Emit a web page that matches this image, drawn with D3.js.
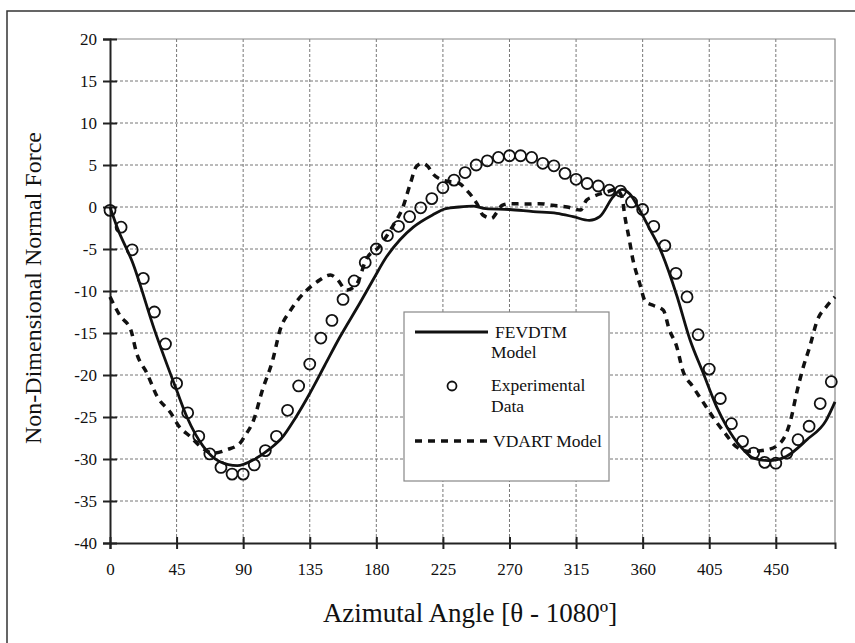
<!DOCTYPE html>
<html>
<head>
<meta charset="utf-8">
<script src="https://cdn.jsdelivr.net/npm/d3@7"></script>
<style>
  body { margin: 0; background: #fff; }
  svg text { font-family: "Liberation Serif", "Times New Roman", serif; fill: #111; }
</style>
</head>
<body>
<svg width="855" height="643"></svg>
<script>
// experimental data (circles)
var expAngle = [0, 7.5, 15, 22.5, 30, 37.5, 45, 52.5, 60, 67.5, 75, 82.5, 90, 97.5, 105, 112.5,
  120, 127.5, 135, 142.5, 150, 157.5, 165, 172.5, 180, 187.5, 195, 202.5, 210, 217.5, 225, 232.5,
  240, 247.5, 255, 262.5, 270, 277.5, 285, 292.5, 300, 307.5, 315, 322.5, 330, 337.5, 345, 352.5,
  360, 367.5, 375, 382.5, 390, 397.5, 405, 412.5, 420, 427.5, 435, 442.5, 450, 457.5, 465, 472.5,
  480, 487.5];
var expValue = [-0.4, -2.4, -5.1, -8.5, -12.5, -16.3, -21.0, -24.5, -27.3, -29.4, -31.0, -31.8, -31.8, -30.7, -29.0, -27.3,
  -24.2, -21.3, -18.7, -15.6, -13.5, -11.0, -8.8, -6.6, -5.0, -3.4, -2.3, -1.15, -0.1, 1.0, 2.3, 3.2,
  4.1, 5.0, 5.5, 5.9, 6.1, 6.1, 5.9, 5.2, 4.9, 4.0, 3.3, 2.8, 2.5, 2.0, 1.9, 0.6,
  -0.3, -2.3, -4.6, -7.9, -10.7, -15.2, -19.3, -22.8, -25.8, -27.9, -29.3, -30.4, -30.5, -29.3, -27.7, -26.1,
  -23.4, -20.8];

// FEVDTM model (solid)
var fevAngle = [0, 5, 15, 30, 45, 52, 63, 74, 86, 97, 108, 117, 125, 135, 145, 155, 169, 178, 187, 196, 205,
  218, 227, 236, 245, 254, 270, 286, 302, 313, 324, 331, 340, 346, 351, 358, 365, 372, 383, 392, 401,
  410, 417, 426, 435, 445, 457, 471, 484, 490];
var fevValue = [0, -2.5, -6.5, -14.6, -21.8, -25, -28.5, -30.3, -30.8, -30.1, -28.8, -27.3, -25.2, -22.2, -18.9, -15.6, -11.4, -8.6, -5.9, -3.9, -2.4,
  -0.95, -0.2, 0, 0.1, -0.2, -0.3, -0.55, -0.75, -1.15, -1.6, -1.15, 1.2, 2.1, 1.6, -0.35, -2.7, -5.1, -10.5, -15.8, -19.8,
  -23.8, -26.2, -28.5, -29.9, -30.2, -29.7, -27.7, -25.4, -23.2];

// VDART model (dashed)
var vdAngle = [0, 7, 14, 18, 25, 32, 41, 47, 54, 61, 70, 79, 88, 91, 97, 103, 110, 115, 122, 133,
  140, 149, 153, 160, 167, 173, 182, 191, 198, 203, 207, 211, 215, 218, 225, 236, 241, 248, 252, 258,
  261, 265, 270, 281, 290, 299, 309, 318, 322, 326, 336, 342, 346, 348, 351, 353, 358, 362, 367, 374,
  378, 383, 387, 394, 403, 409, 416, 423, 432, 444, 453, 460, 464, 468, 473, 478, 484, 490];
var vdValue = [-10.7, -13, -14.6, -17.4, -19.8, -22.6, -24.5, -26.2, -27.3, -28.5, -29.3, -28.9, -28.1, -27.3, -25.4, -21.8, -18.2, -14.6, -12.3, -9.9,
  -8.9, -8.1, -8.5, -9.9, -9.1, -6.3, -4.7, -2.3, 0, 2.8, 4.8, 5.2, 4.8, 4.0, 3.2, 2.8, 2.0, 0.4, -0.95, -1.35,
  -0.75, 0.2, 0.4, 0.35, 0.4, 0.2, 0, -0.35, 0.8, 1.2, 1.8, 2.1, 1.2, -1.15, -3.9, -5.9, -9.1, -11.3, -11.7, -12.3,
  -14.6, -16.6, -19.4, -21.4, -23.8, -25.4, -27, -28.5, -29.1, -28.9, -28.1, -25.4, -22.2, -19.4, -16.6, -13.5, -11.9, -10.7];

var xTicks = [0, 45, 90, 135, 180, 225, 270, 315, 360, 405, 450];
var yTicks = [-40, -35, -30, -25, -20, -15, -10, -5, 0, 5, 10, 15, 20];

var serif = "Liberation Serif, Times New Roman, serif";
var svg = d3.select("svg");

// outer frame
svg.append("rect")
  .attr("x", 7).attr("y", 11)
  .attr("width", 860).attr("height", 650)
  .attr("fill", "none")
  .attr("stroke", "#333")
  .attr("stroke-width", 1.5);

var x = d3.scaleLinear().domain([0, 490]).range([110, 835]);
var y = d3.scaleLinear().domain([-40, 20]).range([543, 39]);

// grid
var grid = svg.append("g").attr("class", "grid");
grid.selectAll("line.v")
  .data(xTicks.slice(1))
  .enter().append("line")
  .attr("x1", function(d) { return x(d); })
  .attr("x2", function(d) { return x(d); })
  .attr("y1", y(20)).attr("y2", y(-40))
  .attr("stroke", "#777").attr("stroke-width", 1)
  .attr("stroke-dasharray", "3,2");
grid.selectAll("line.h")
  .data(yTicks.slice(1, -1))
  .enter().append("line")
  .attr("x1", x(0)).attr("x2", x(490))
  .attr("y1", function(d) { return y(d); })
  .attr("y2", function(d) { return y(d); })
  .attr("stroke", "#777").attr("stroke-width", 1)
  .attr("stroke-dasharray", "3,2");

// plot border top/right
svg.append("path")
  .attr("d", "M" + x(0) + "," + y(20) + "H" + x(490) + "V" + y(-40))
  .attr("fill", "none").attr("stroke", "#888").attr("stroke-width", 1.2);

// axes
var fmt = function(d) { return String(d); };   // plain hyphen minus like the original

var xAxis = svg.append("g")
  .attr("transform", "translate(0," + y(-40) + ")")
  .call(d3.axisBottom(x).tickValues(xTicks).tickFormat(fmt).tickSize(6).tickPadding(14));
xAxis.attr("font-family", serif).attr("font-size", 17);
xAxis.select(".domain").attr("stroke", "#222").attr("stroke-width", 2);
xAxis.selectAll(".tick line").attr("y1", -6).attr("stroke", "#222").attr("stroke-width", 2);
xAxis.selectAll("text").attr("fill", "#111");

var yAxis = svg.append("g")
  .attr("transform", "translate(" + x(0) + ",0)")
  .call(d3.axisLeft(y).tickValues(yTicks).tickFormat(fmt).tickSize(7).tickPadding(6));
yAxis.attr("font-family", serif).attr("font-size", 17);
yAxis.select(".domain").attr("stroke", "#222").attr("stroke-width", 2);
yAxis.selectAll(".tick line").attr("x1", 7).attr("x2", -7).attr("stroke", "#222").attr("stroke-width", 2);
yAxis.selectAll("text").attr("fill", "#111");

// series
var fevData = fevAngle.map(function(a, i) { return [a, fevValue[i]]; });
var vdData = vdAngle.map(function(a, i) { return [a, vdValue[i]]; });
var expData = expAngle.map(function(a, i) { return [a, expValue[i]]; });

var line = d3.line()
  .x(function(d) { return x(d[0]); })
  .y(function(d) { return y(d[1]); })
  .curve(d3.curveMonotoneX);

svg.append("path")
  .datum(vdData)
  .attr("d", line)
  .attr("fill", "none")
  .attr("stroke", "#111")
  .attr("stroke-width", 3.5)
  .attr("stroke-dasharray", "7,6");

svg.append("path")
  .datum(fevData)
  .attr("d", line)
  .attr("fill", "none")
  .attr("stroke", "#111")
  .attr("stroke-width", 2.8);

svg.append("g").selectAll("circle")
  .data(expData)
  .enter().append("circle")
  .attr("cx", function(d) { return x(d[0]); })
  .attr("cy", function(d) { return y(d[1]); })
  .attr("r", 5.5)
  .attr("fill", "none")
  .attr("stroke", "#111")
  .attr("stroke-width", 1.8);

// legend
var leg = svg.append("g").attr("font-family", serif).attr("font-size", 17.5);
leg.append("rect")
  .attr("x", 404).attr("y", 312).attr("width", 205).attr("height", 169)
  .attr("fill", "#fff").attr("stroke", "#888").attr("stroke-width", 1.2);
leg.append("line")
  .attr("x1", 415).attr("x2", 488).attr("y1", 332).attr("y2", 332)
  .attr("stroke", "#111").attr("stroke-width", 2.8);
leg.append("text").attr("x", 495).attr("y", 338).text("FEVDTM");
leg.append("text").attr("x", 491).attr("y", 358).text("Model");
leg.append("circle")
  .attr("cx", 452).attr("cy", 386).attr("r", 4.5)
  .attr("fill", "none").attr("stroke", "#111").attr("stroke-width", 1.8);
leg.append("text").attr("x", 491).attr("y", 391).text("Experimental");
leg.append("text").attr("x", 491).attr("y", 412).text("Data");
leg.append("line")
  .attr("x1", 415).attr("x2", 491).attr("y1", 441).attr("y2", 441)
  .attr("stroke", "#111").attr("stroke-width", 3.5)
  .attr("stroke-dasharray", "7,6");
leg.append("text").attr("x", 493).attr("y", 447).text("VDART Model");

// axis titles
svg.append("text")
  .attr("transform", "translate(41,288) rotate(-90)")
  .attr("text-anchor", "middle")
  .attr("font-family", serif)
  .attr("font-size", 24)
  .text("Non-Dimensional Normal Force");

svg.append("text")
  .attr("x", 470).attr("y", 622)
  .attr("text-anchor", "middle")
  .attr("font-family", serif)
  .attr("font-size", 27)
  .text("Azimutal Angle [\u03b8 - 1080\u00ba]");
</script>
</body>
</html>
